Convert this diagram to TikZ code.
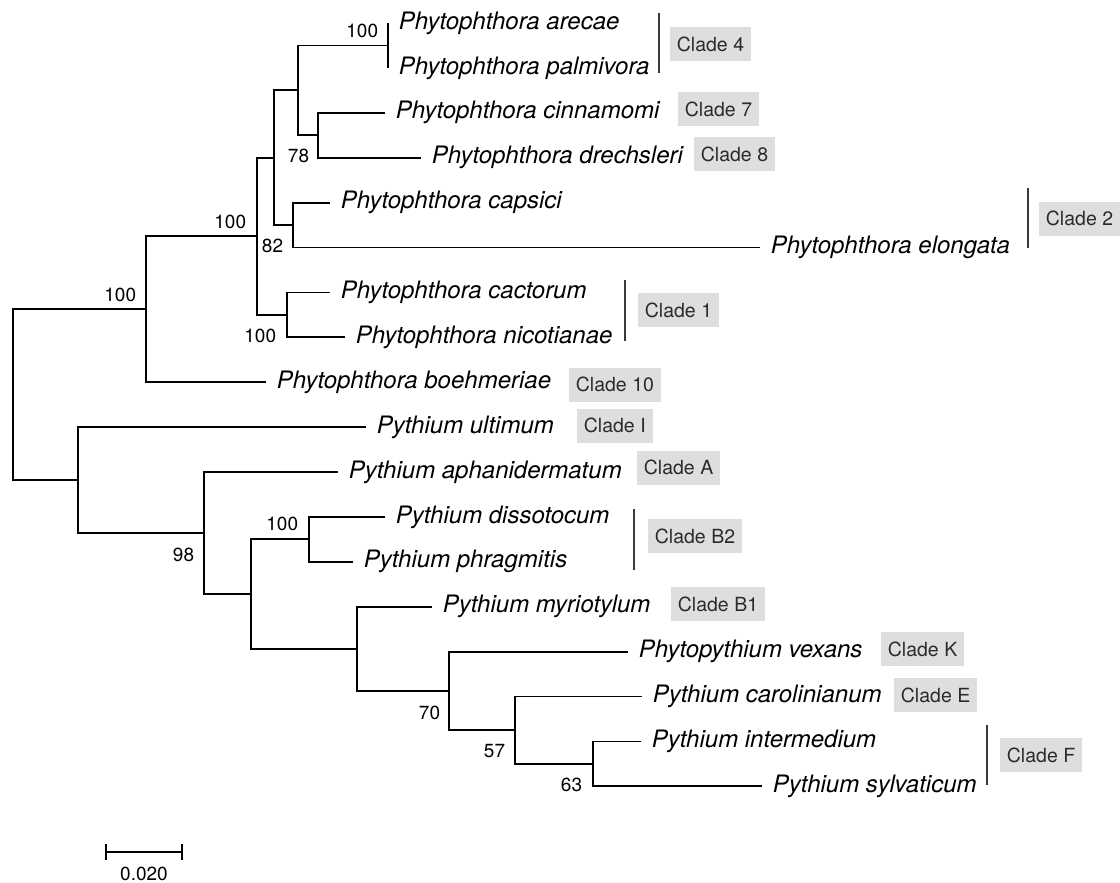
\documentclass[tikz,border=0pt]{standalone}
\usepackage{fontspec}
\setmainfont{TeX Gyre Heros}
\definecolor{cladegray}{HTML}{DCDEE0}
\definecolor{cladetext}{HTML}{2B2B2B}
\definecolor{bracketgray}{HTML}{3A3A3A}
\begin{document}
\begin{tikzpicture}
[x=1pt, y=-1pt, line width=1.8pt,
taxon/.style={anchor=west, inner xsep=10pt, inner ysep=0pt, font=\fontsize{24}{28}\selectfont\itshape},
boot/.style={inner sep=0pt, font=\fontsize{19}{22}\selectfont},
clade/.style={anchor=west, fill=cladegray, text=cladetext, inner xsep=7pt, inner ysep=0pt, minimum height=34pt, text depth=0pt, font=\fontsize{19.5}{22}\selectfont},
bracket/.style={line width=1.4pt, draw=bracketgray}]
\useasboundingbox (0,0) rectangle (1120,883);
\coordinate (root) at (13,394.6);
\coordinate (p0) at (146,309.2);
\coordinate (p1) at (257,236.3);
\coordinate (p2) at (274,157.7);
\coordinate (p3) at (287,314.8);
\coordinate (p4) at (298,90.4);
\coordinate (p5) at (293,225);
\coordinate (p6) at (318,135.3);
\coordinate (pa) at (388,45.5);
\coordinate (q0) at (78,480.1);
\coordinate (q1) at (204,533);
\coordinate (q2) at (251,594.1);
\coordinate (q3) at (309,539.3);
\coordinate (q4) at (357,648.8);
\coordinate (q5) at (449,690.9);
\coordinate (q6) at (515,730.2);
\coordinate (q7) at (593,763.8);
\node [taxon] (arecae) at (388,23) {Phytophthora arecae};
\node [taxon] (palmivora) at (388,67.9) {Phytophthora palmivora};
\node [taxon] (cinnamomi) at (385,112.8) {Phytophthora cinnamomi};
\node [taxon] (drechsleri) at (421,157.7) {Phytophthora drechsleri};
\node [taxon] (capsici) at (330,202.6) {Phytophthora capsici};
\node [taxon] (elongata) at (760,247.5) {Phytophthora elongata};
\node [taxon] (cactorum) at (330,292.4) {Phytophthora cactorum};
\node [taxon] (nicotianae) at (345,337.3) {Phytophthora nicotianae};
\node [taxon] (boehmeriae) at (266,382.2) {Phytophthora boehmeriae};
\node [taxon] (ultimum) at (366,427.1) {Pythium ultimum};
\node [taxon] (aphanidermatum) at (338,472) {Pythium aphanidermatum};
\node [taxon] (dissotocum) at (385,516.9) {Pythium dissotocum};
\node [taxon] (phragmitis) at (353,561.8) {Pythium phragmitis};
\node [taxon] (myriotylum) at (432,606.7) {Pythium myriotylum};
\node [taxon] (vexans) at (628,651.6) {Phytopythium vexans};
\node [taxon] (carolinianum) at (642,696.5) {Pythium carolinianum};
\node [taxon] (intermedium) at (641,741.4) {Pythium intermedium};
\node [taxon] (sylvaticum) at (762,786.3) {Pythium sylvaticum};
\draw (root) |- (p0);
\draw (root) |- (q0);
\draw (p0) |- (p1);
\draw (p0) |- (boehmeriae);
\draw (p1) |- (p2);
\draw (p1) |- (p3);
\draw (p2) |- (p4);
\draw (p2) |- (p5);
\draw (p4) |- (pa);
\draw (p4) |- (p6);
\draw (pa) |- (arecae);
\draw (pa) |- (palmivora);
\draw (p6) |- (cinnamomi);
\draw (p6) |- (drechsleri);
\draw (p5) |- (capsici);
\draw (p5) |- (elongata);
\draw (p3) |- (cactorum);
\draw (p3) |- (nicotianae);
\draw (q0) |- (ultimum);
\draw (q0) |- (q1);
\draw (q1) |- (aphanidermatum);
\draw (q1) |- (q2);
\draw (q2) |- (q3);
\draw (q2) |- (q4);
\draw (q3) |- (dissotocum);
\draw (q3) |- (phragmitis);
\draw (q4) |- (myriotylum);
\draw (q4) |- (q5);
\draw (q5) |- (vexans);
\draw (q5) |- (q6);
\draw (q6) |- (carolinianum);
\draw (q6) |- (q7);
\draw (q7) |- (intermedium);
\draw (q7) |- (sylvaticum);
\node [boot, anchor=south east] (bpa) at ([shift={(-9,-7)}]pa) {100};
\node [boot, anchor=south east] (bp1) at ([shift={(-10,-7)}]p1) {100};
\node [boot, anchor=south east] (bp0) at ([shift={(-9,-7)}]p0) {100};
\node [boot, anchor=south east] (bq3) at ([shift={(-10,-8)}]q3) {100};
\node [boot, anchor=north east] (bp6) at ([shift={(-8,13)}]p6) {78};
\node [boot, anchor=north east] (bp5) at ([shift={(-9,13)}]p5) {82};
\node [boot, anchor=north east] (bp3) at ([shift={(-10,13)}]p3) {100};
\node [boot, anchor=north east] (bq1) at ([shift={(-9,14)}]q1) {98};
\node [boot, anchor=north east] (bq5) at ([shift={(-8,14)}]q5) {70};
\node [boot, anchor=north east] (bq6) at ([shift={(-9,13)}]q6) {57};
\node [boot, anchor=north east] (bq7) at ([shift={(-10,13)}]q7) {63};
\node [clade] (clade4) at (669,44) {Clade 4};
\node [clade] (clade7) at (677,109) {Clade 7};
\node [clade] (clade8) at (693,154) {Clade 8};
\node [clade] (clade2) at (1038,218.5) {Clade 2};
\node [clade] (clade1) at (637,310) {Clade 1};
\node [clade] (clade10) at (568,384.5) {Clade 10};
\node [clade] (cladeI) at (576,425.5) {Clade I};
\node [clade] (cladeA) at (636,467.5) {Clade A};
\node [clade] (cladeB2) at (647,536) {Clade B2};
\node [clade] (cladeB1) at (670,604) {Clade B1};
\node [clade] (cladeK) at (880,649) {Clade K};
\node [clade] (cladeE) at (893,695) {Clade E};
\node [clade] (cladeF) at (999,755) {Clade F};
\draw [bracket] (659,13) -- (659,73);
\draw [bracket] (1028,188) -- (1028,248);
\draw [bracket] (625,280) -- (625,341);
\draw [bracket] (634,509) -- (634,570);
\draw [bracket] (987,725) -- (987,785);
\coordinate (s0) at (106,852);
\coordinate (s1) at (182,852);
\draw (s0) -- (s1) node [boot, midway, anchor=north, yshift=-14pt] (scalelabel) {0.020};
\draw ([yshift=8pt]s0) -- ([yshift=-8pt]s0);
\draw ([yshift=8pt]s1) -- ([yshift=-8pt]s1);
\end{tikzpicture}
\end{document}
